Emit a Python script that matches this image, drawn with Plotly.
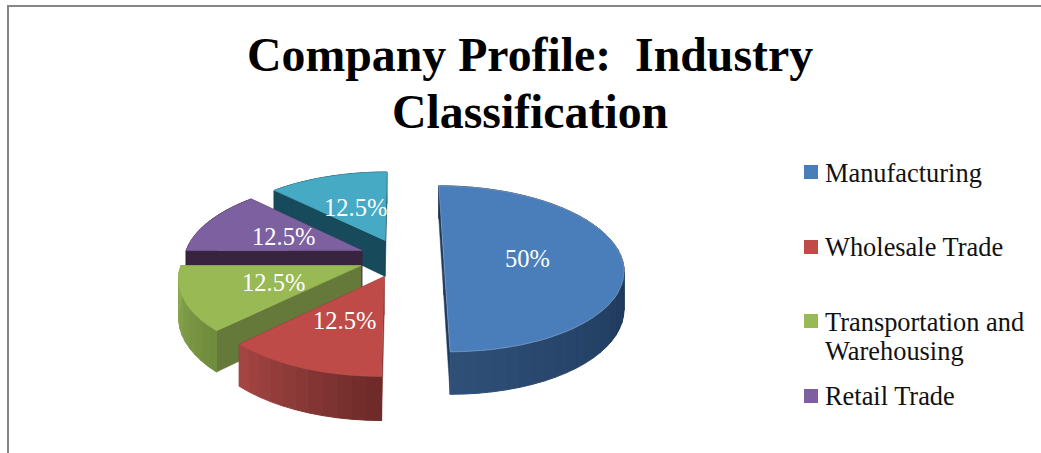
import math
import plotly.graph_objects as go

# ---- data ----
categories = ["Manufacturing", "Wholesale Trade", "Transportation and Warehousing", "Retail Trade", "Other"]
values = [50, 12.5, 12.5, 12.5, 12.5]
title_lines = ["Company Profile:\u00a0 Industry", "Classification"]
legend_lines = [["Manufacturing"], ["Wholesale Trade"], ["Transportation and", "Warehousing"], ["Retail Trade"]]

# ---- style ----
top_colors = ["#4a7ebb", "#be4b48", "#98b954", "#7d60a0", "#46aac5"]
radial_colors = ["#1f3a5f", "#7a2f2d", "#64793a", "#38243f", "#174a5a"]
# rim colour stops, running clockwise over the slice
rim_stops = [["#1a3253", "#1c3557", "#2f5078"], ["#6b2a28", "#a54644"], ["#6f8a3c", "#8dab52"],
             ["#38243f", "#38243f"], ["#174a5a", "#174a5a"]]
label_pos = [(527, 258), (344, 320), (273, 282), (283, 236), (355, 207)]
CX, CY, RX, RY, K, PULL, DEPTH = 401, 258, 178, 81.6, 0.13, 0.24, 37
SERIF = "Liberation Serif"


def project(a, b, drop=False):
    s = 1 / (1 - K * b)
    return CX + RX * a * s, CY + RY * b * s + (DEPTH * s if drop else 0)


def mix(c1, c2, t):
    p = [int(c1[i:i + 2], 16) for i in (1, 3, 5)]
    q = [int(c2[i:i + 2], 16) for i in (1, 3, 5)]
    return "rgb(%d,%d,%d)" % tuple(round(u + (v - u) * t) for u, v in zip(p, q))


def ramp(stops, t):
    n = len(stops) - 1
    i = min(int(t * n), n - 1)
    return mix(stops[i], stops[i + 1], t * n - i)


fig = go.Figure()


def poly(points, color, name, line=None, width=1):
    xs = [p[0] for p in points] + [points[0][0]]
    ys = [p[1] for p in points] + [points[0][1]]
    fig.add_trace(go.Scatter(x=xs, y=ys, mode="lines", fill="toself", fillcolor=color, name=name,
                             line=dict(color=line or color, width=width), hoverinfo="name", showlegend=False))


# slice spans derived from the values, clockwise from twelve o'clock
total = sum(values)
spans = []
acc = 0
for v in values:
    spans.append((acc / total * 360, (acc + v) / total * 360))
    acc += v

# paint from the back of the pie to the front
for idx in [4, 3, 2, 1, 0]:
    t0, t1 = spans[idx]
    mid = math.radians((t0 + t1) / 2)
    ox, oy = PULL * math.sin(mid), -PULL * math.cos(mid)
    pt = lambda deg, r=1.0: (ox + r * math.sin(math.radians(deg)), oy - r * math.cos(math.radians(deg)))
    name = categories[idx]
    # radial faces
    for edge in (t0, t1):
        a, b = pt(edge)
        poly([project(ox, oy), project(a, b), project(a, b, True), project(ox, oy, True)],
             radial_colors[idx], name, width=0.5)
    # rim, shaded segment by segment
    n = max(8, int((t1 - t0) / 4))
    for j in range(n):
        d0 = t0 + (t1 - t0) * j / n
        d1 = t0 + (t1 - t0) * (j + 1) / n
        a0, b0 = pt(d0)
        a1, b1 = pt(d1)
        poly([project(a0, b0), project(a1, b1), project(a1, b1, True), project(a0, b0, True)],
             ramp(rim_stops[idx], (j + 0.5) / n), name)
    # top face
    arc = [pt(t0 + (t1 - t0) * j / 60) for j in range(61)]
    poly([project(ox, oy)] + [project(a, b) for a, b in arc], top_colors[idx], name,
         line="#8fa8c8" if idx == 0 else None, width=0.6)

annotations = []
for (x, y), v in zip(label_pos, values):
    annotations.append(dict(x=x, y=y, text=f"{v:g}%", showarrow=False, xref="x", yref="y",
                            font=dict(family=SERIF, size=24.5, color="white")))
for line, y in zip(title_lines, (54, 111)):
    annotations.append(dict(x=529.5, y=y, text=f"<b>{line}</b>", showarrow=False, xref="x", yref="y",
                            font=dict(family=SERIF, size=47.8, color="black")))

swatch_y = [172, 247, 321, 396]
line_y = [[173, ], [247], [322, 351], [396]]
for lines, ys, sy, color in zip(legend_lines, line_y, swatch_y, top_colors):
    fig.add_shape(type="rect", x0=804, x1=818, y0=sy - 7, y1=sy + 7, fillcolor=color, line_width=0, xref="x", yref="y")
    for text, y in zip(lines, ys):
        annotations.append(dict(x=823, y=y, text=text, showarrow=False, xanchor="left", xref="x", yref="y",
                                font=dict(family=SERIF, size=26.4, color="#111111")))

# chart frame (cropped in the source: only the top and left edges are in view)
fig.add_shape(type="line", x0=8, x1=1041, y0=6, y1=6, line=dict(color="#868686", width=2), xref="x", yref="y")
fig.add_shape(type="line", x0=8, x1=8, y0=5, y1=453, line=dict(color="#868686", width=2), xref="x", yref="y")

fig.update_layout(width=1041, height=453, margin=dict(l=0, r=0, t=0, b=0), paper_bgcolor="white",
                  plot_bgcolor="white", showlegend=False, annotations=annotations,
                  xaxis=dict(range=[0, 1041], visible=False, fixedrange=True),
                  yaxis=dict(range=[453, 0], visible=False, fixedrange=True))
fig.write_html("out.html", post_script="document.body.style.margin='0';document.body.style.overflow='hidden';",
               config={"displayModeBar": False})
